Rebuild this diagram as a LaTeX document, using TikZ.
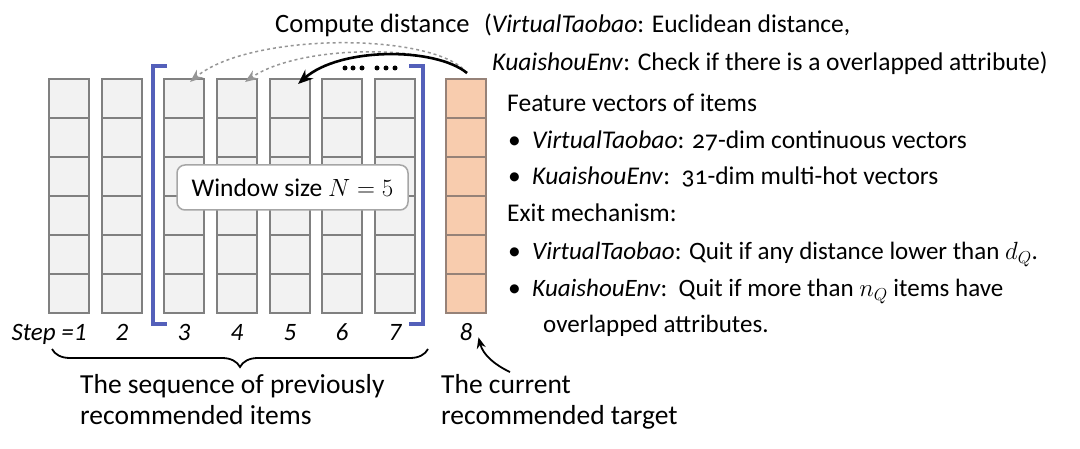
\documentclass[tikz,border=0pt]{standalone}
\usepackage{fontspec}
\setmainfont{Carlito}
\newfontfamily\osf[Numbers=OldStyle]{Carlito}
\usetikzlibrary{decorations.pathreplacing,arrows.meta}
\definecolor{cellfill}{RGB}{242,242,242}
\definecolor{cellline}{RGB}{128,128,128}
\definecolor{orangefill}{RGB}{248,204,174}
\definecolor{orangeline}{RGB}{150,130,120}
\definecolor{bracketblue}{RGB}{84,96,186}
\definecolor{dashgray}{RGB}{150,150,150}
\tikzset{
  cell/.style={draw=cellline, fill=cellfill, line width=2pt, minimum width=40pt, minimum height=39pt, inner sep=0pt, outer sep=0pt},
  tcell/.style={cell, draw=orangeline, fill=orangefill},
  txt/.style={inner sep=0pt, anchor=base west, font=\fontsize{25.5}{37}\selectfont},
  bigtxt/.style={txt, font=\fontsize{27.5}{37}\selectfont},
  exittxt/.style={txt, font=\fontsize{25}{37}\selectfont},
  steplbl/.style={inner sep=0pt, anchor=base, font=\fontsize{25}{30}\selectfont\itshape},
  bracket/.style={draw=bracketblue, line width=3.5pt},
  solidarrow/.style={draw=black, line width=2.6pt, -{Stealth[length=15pt,width=12pt]}},
  dasharrow/.style={draw=dashgray, line width=1.5pt, dashed, -{Stealth[length=13pt,width=10pt]}},
  winbox/.style={draw=black!35, fill=white, line width=1.5pt, rounded corners=8pt, minimum width=231pt, minimum height=45pt, inner sep=0pt, font=\fontsize{25.5}{37}\selectfont},
  dot/.style={circle, fill=black, inner sep=0pt, minimum size=5pt},
}
\begin{document}
\begin{tikzpicture}[x=1pt,y=-1pt]
\useasboundingbox (0,0) rectangle (1080,449);
% cells
\foreach \c/\x in {1/69,2/122,3/184,4/237,5/290,6/342,7/395}{
  \foreach \r in {1,...,6}{
    \node[cell] (c\c-\r) at (\x,{59.5+39*\r}) {};
  }
}
\foreach \r in {1,...,6}{
  \node[tcell] (c8-\r) at (466,{59.5+39*\r}) {};
}
% brackets
\draw[bracket] (167,66) -- (153,66) -- (153,324) -- (167,324);
\draw[bracket] (409,66) -- (423,66) -- (423,324) -- (409,324);
% window box
\node[winbox] (win) at (292.5,187.5) {Window size $N=5$};
% step labels
\node[steplbl] (s1) at (49,341) {Step =1};
\node[steplbl] (s2) at (122,341) {2};
\node[steplbl] (s3) at (184,341) {3};
\node[steplbl] (s4) at (237,341) {4};
\node[steplbl] (s5) at (290,341) {5};
\node[steplbl] (s6) at (342,341) {6};
\node[steplbl] (s7) at (395,341) {7};
\node[steplbl] (s8) at (466,341) {8};
% brace
\draw[decorate, decoration={brace, mirror, amplitude=18pt}, line width=1.8pt] (52,349) -- (428,349);
% arrows at top
\coordinate (src) at (467,73);
\draw[dasharrow] (src) .. controls (435,32) and (250,32) .. ([xshift=6pt,yshift=-3pt]c3-1.north);
\draw[dasharrow] (src) .. controls (435,44) and (300,44) .. ([xshift=8pt,yshift=-3pt]c4-1.north);
\draw[solidarrow] (src) .. controls (435,47) and (340,47) .. ([xshift=8pt,yshift=-5pt]c5-1.north);
% dots
\foreach \i/\x in {1/345,2/353,3/362,4/377,5/386,6/395}{
  \node[dot] (d\i) at (\x,68) {};
}
% top texts
\node[txt, font=\fontsize{26.5}{37}\selectfont] (cd) at (275,33) {Compute distance};
\node[txt] (vt) at (484,33) {(\textit{VirtualTaobao}: Euclidean distance,};
\node[txt] (ke) at (492,71) {\textit{KuaishouEnv}: Check if there is a overlapped attribute)};
% right texts
\node[txt] (fv) at (507,112) {Feature vectors of items};
\node[txt] (b1) at (508,149) {\textbullet};
\node[txt] (fv1) at (532,149) {\textit{VirtualTaobao}: {\osf 27}-dim continuous vectors};
\node[txt] (b2) at (508,185) {\textbullet};
\node[txt] (fv2) at (532,185) {\textit{KuaishouEnv}:\ \ {\osf 31}-dim multi-hot vectors};
\node[txt] (em) at (507,222) {Exit mechanism:};
\node[txt] (b3) at (508,260) {\textbullet};
\node[exittxt] (em1) at (532,260) {\textit{VirtualTaobao}: Quit if any distance lower than $d_Q$.};
\node[txt] (b4) at (508,297) {\textbullet};
\node[exittxt] (em2) at (532,297) {\textit{KuaishouEnv}:\ \ Quit if more than $n_Q$ items have};
\node[exittxt] (em3) at (543,333) {overlapped attributes.};
% bottom texts
\node[bigtxt] (seq1) at (80,393) {The sequence of previously};
\node[bigtxt] (seq2) at (80,424) {recommended items};
\node[bigtxt] (cur1) at (441,393) {The current};
\node[bigtxt] (cur2) at (441,424) {recommended target};
\coordinate (curtip) at (510,372);
\draw[line width=1.8pt, -{Stealth[length=11pt,width=9pt]}] (curtip) .. controls (495,365) and (483,355) .. ([xshift=6pt,yshift=4pt]s8.south east);
\end{tikzpicture}
\end{document}
